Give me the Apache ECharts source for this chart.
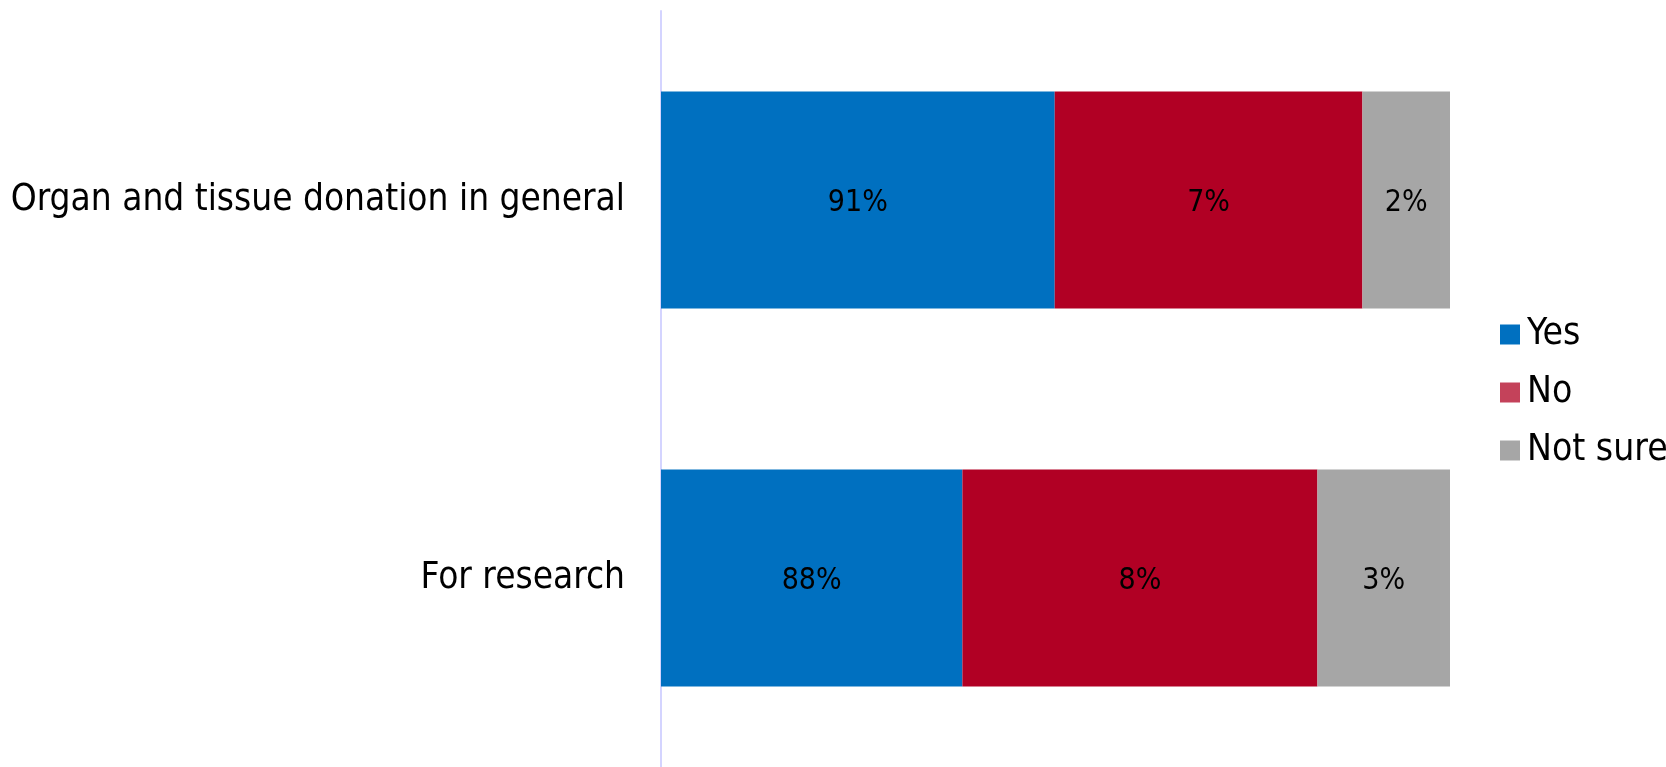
<!DOCTYPE html>
<html>
<head>
<meta charset="utf-8">
<script src="https://cdn.jsdelivr.net/npm/echarts@6/dist/echarts.min.js"></script>
<style>
html,body{margin:0;padding:0;background:#fff;}
#c{width:1666px;height:767px;}
</style>
</head>
<body>
<div id="c"></div>
<script>
// Categories (top to bottom)
const categories = ["Organ and tissue donation in general", "For research"];
// Drawn segment lengths (as measured in the picture, share of bar length)
const yesValues = [49.9, 38.2];
const noValues = [39.0, 45.0];
const notSureValues = [11.1, 16.8];
// Printed labels
const yesLabels = ["91%", "88%"];
const noLabels = ["7%", "8%"];
const notSureLabels = ["2%", "3%"];
const seriesNames = ["Yes", "No", "Not sure"];

const FONT = '"DejaVu Sans Condensed", "DejaVu Sans", sans-serif';
const barColors = ["#0070C0", "#B10024", "#A6A6A6"];
const legendColors = ["#0070C0", "#C4425A", "#A6A6A6"];

function mk(name, values, labels, color) {
  return {
    name: name,
    type: 'bar',
    stack: 'total',
    barWidth: 217,
    data: values,
    itemStyle: {color: color},
    label: {
      show: true,
      position: 'inside',
      formatter: p => labels[p.dataIndex],
      color: '#000',
      fontFamily: FONT,
      fontSize: 30,
      offset: [0, 3]
    },
    emphasis: {disabled: true}
  };
}

const chart = echarts.init(document.getElementById('c'));
chart.setOption({
  animation: false,
  grid: {left: 661, right: 216, top: 11, bottom: 0, containLabel: false},
  xAxis: {type: 'value', min: 0, max: 100, show: false},
  yAxis: {
    type: 'category',
    data: categories,
    inverse: true,
    axisLine: {show: true, lineStyle: {color: '#D4D4FF', width: 2}},
    axisTick: {show: false},
    axisLabel: {color: '#000', fontFamily: FONT, fontSize: 36.7, margin: 36, padding: [4, 0, 0, 0]}
  },
  legend: {
    orient: 'vertical',
    left: 1495,
    top: 311,
    itemWidth: 20,
    itemHeight: 20,
    itemGap: 21,
    icon: 'rect',
    textStyle: {color: '#000', fontFamily: FONT, fontSize: 37, padding: [0, 0, 0, 2]},
    itemStyle: {borderWidth: 0},
    data: seriesNames.map((n, i) => ({name: n, itemStyle: {color: legendColors[i]}}))
  },
  series: [
    mk(seriesNames[0], yesValues, yesLabels, barColors[0]),
    mk(seriesNames[1], noValues, noLabels, barColors[1]),
    mk(seriesNames[2], notSureValues, notSureLabels, barColors[2])
  ]
});
</script>
</body>
</html>
